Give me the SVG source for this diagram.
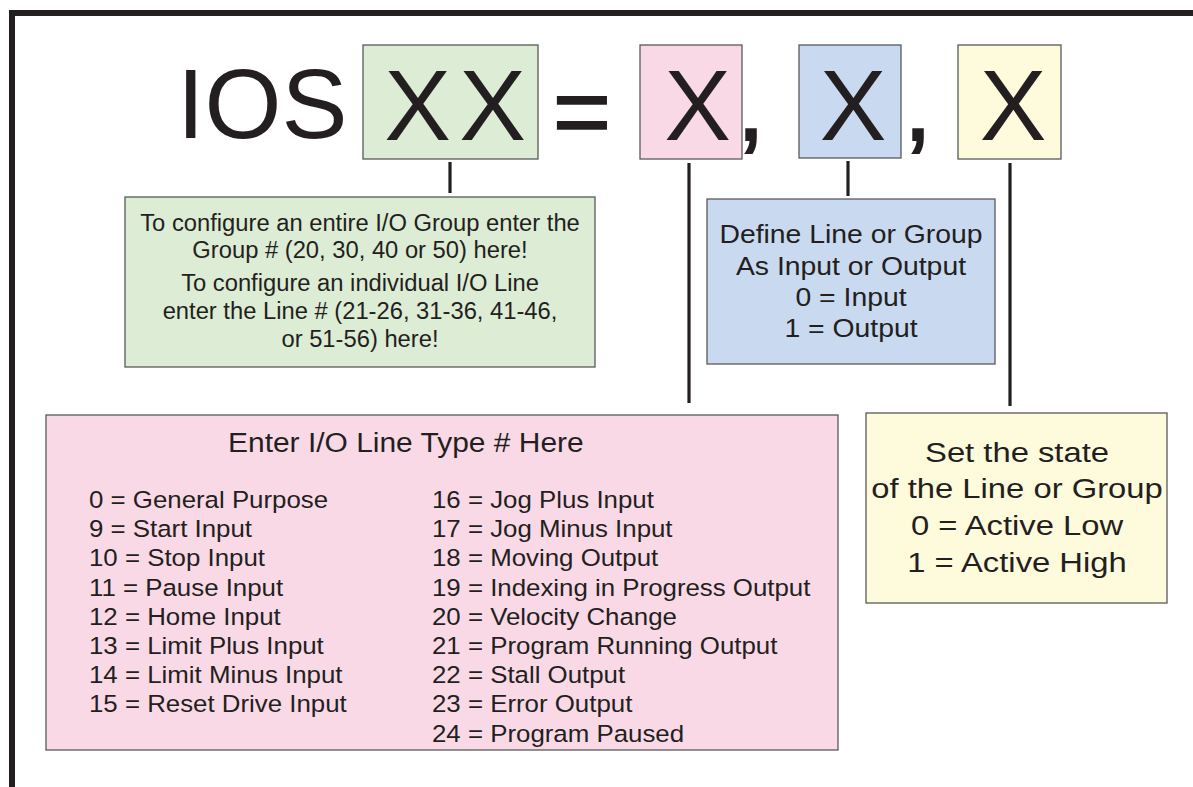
<svg xmlns="http://www.w3.org/2000/svg" width="1193" height="787" viewBox="0 0 1193 787">
<style>
text{font-family:"Liberation Sans",Arial,Helvetica,sans-serif;fill:#231f20}
.box{stroke:#58595b;stroke-width:1.3}
.g{fill:#ddecd5}.p{fill:#fad9e7}.b{fill:#c9d9f0}.y{fill:#fefadc}
.big{font-size:100px;text-anchor:middle}
.conn line{stroke:#231f20;stroke-width:3.2}
.mid{text-anchor:middle}
</style>
<rect x="0" y="0" width="1193" height="787" fill="#ffffff"/>
<rect x="12" y="13" width="1200" height="800" fill="none" stroke="#231f20" stroke-width="6"/>

<g id="header">
<text x="177" y="138" font-size="99">IOS</text>
<rect id="hdr-group" class="box g" x="363" y="45" width="175" height="114"/>
<text class="big" x="417.5" y="140">X</text>
<text class="big" x="492.5" y="140">X</text>
<text class="big" x="582" y="146" stroke="#231f20" stroke-width="1.5">=</text>
<rect id="hdr-type" class="box p" x="640" y="45" width="102" height="114"/>
<text class="big" x="697.5" y="140">X</text>
<text x="737" y="140" font-size="100" stroke="#231f20" stroke-width="2">,</text>
<rect id="hdr-io" class="box b" x="799" y="45" width="102" height="113"/>
<text class="big" x="853" y="140">X</text>
<text x="904" y="140" font-size="100" stroke="#231f20" stroke-width="2">,</text>
<rect id="hdr-state" class="box y" x="958" y="45" width="103" height="114"/>
<text class="big" x="1013" y="140">X</text>
</g>

<g class="conn" id="connectors">
<line x1="450" y1="162" x2="450" y2="193"/>
<line x1="689" y1="163" x2="689" y2="403"/>
<line x1="848" y1="161" x2="848" y2="196"/>
<line x1="1010" y1="163" x2="1010" y2="406"/>
</g>

<g id="group-note">
<rect class="box g" x="125" y="197" width="470" height="170"/>
<g transform="translate(360 0) scale(1.02 1)" font-size="23.3">
<text class="mid" x="0" y="231">To configure an entire I/O Group enter the</text>
<text class="mid" x="0" y="258">Group # (20, 30, 40 or 50) here!</text>
<text class="mid" x="0" y="291">To configure an individual I/O Line</text>
<text class="mid" x="0" y="319">enter the Line # (21-26, 31-36, 41-46,</text>
<text class="mid" x="0" y="347">or 51-56) here!</text>
</g>
</g>

<g id="io-note">
<rect class="box b" x="707" y="199" width="288" height="165"/>
<g transform="translate(851 0) scale(1.07 1)" font-size="26.5">
<text class="mid" x="0" y="243">Define Line or Group</text>
<text class="mid" x="0" y="275">As Input or Output</text>
<text class="mid" x="0" y="306">0 = Input</text>
<text class="mid" x="0" y="337">1 = Output</text>
</g>
</g>

<g id="state-note">
<rect class="box y" x="866" y="413" width="301" height="190"/>
<g transform="translate(1017 0) scale(1.15 1)" font-size="28.5">
<text class="mid" x="0" y="462">Set the state</text>
<text class="mid" x="0" y="498">of the Line or Group</text>
<text class="mid" x="0" y="535">0 = Active Low</text>
<text class="mid" x="0" y="572">1 = Active High</text>
</g>
</g>

<g id="type-note">
<rect class="box p" x="46" y="415" width="792" height="335"/>
<g transform="translate(228 0) scale(1.07 1)">
<text x="0" y="452" font-size="28">Enter I/O Line Type # Here</text>
</g>
<g transform="translate(89 0) scale(1.1 1)" font-size="23.5">
<text x="0" y="508">0 = General Purpose</text>
<text x="0" y="537.2">9 = Start Input</text>
<text x="0" y="566.4">10 = Stop Input</text>
<text x="0" y="595.6">11 = Pause Input</text>
<text x="0" y="624.8">12 = Home Input</text>
<text x="0" y="654">13 = Limit Plus Input</text>
<text x="0" y="683.2">14 = Limit Minus Input</text>
<text x="0" y="712.4">15 = Reset Drive Input</text>
</g>
<g transform="translate(432 0) scale(1.1 1)" font-size="23.5">
<text x="0" y="508">16 = Jog Plus Input</text>
<text x="0" y="537.2">17 = Jog Minus Input</text>
<text x="0" y="566.4">18 = Moving Output</text>
<text x="0" y="595.6">19 = Indexing in Progress Output</text>
<text x="0" y="624.8">20 = Velocity Change</text>
<text x="0" y="654">21 = Program Running Output</text>
<text x="0" y="683.2">22 = Stall Output</text>
<text x="0" y="712.4">23 = Error Output</text>
<text x="0" y="741.6">24 = Program Paused</text>
</g>
</g>
</svg>
